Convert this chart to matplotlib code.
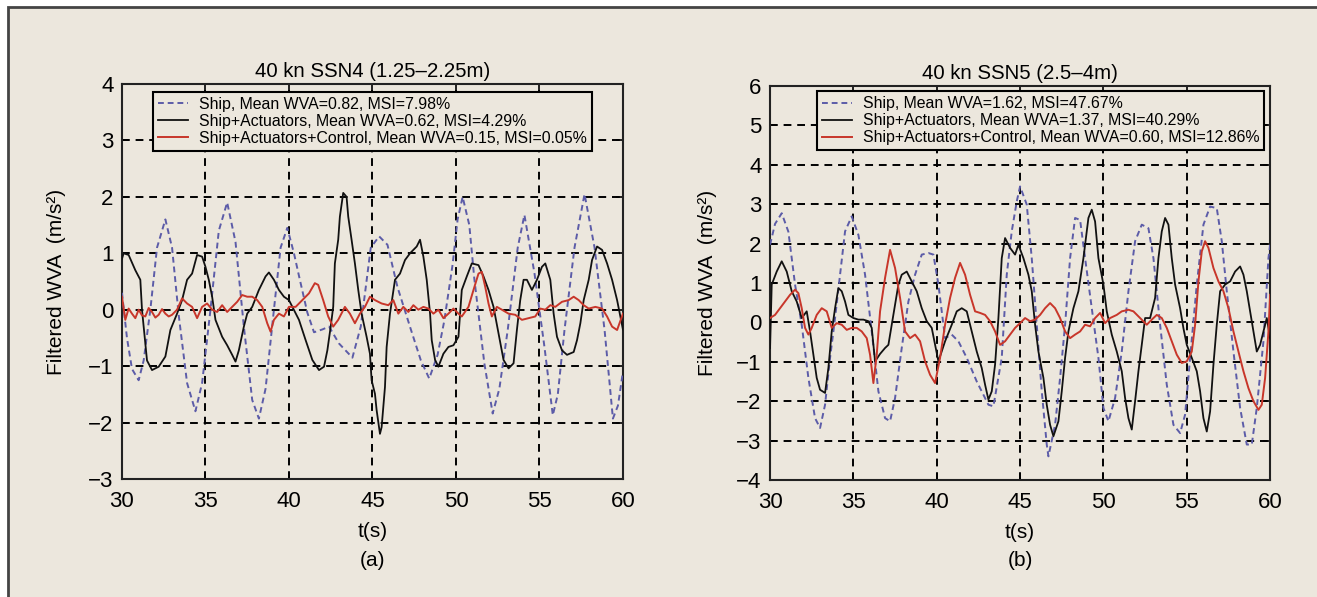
import matplotlib
matplotlib.use("Agg")
import matplotlib.pyplot as plt
from matplotlib.patches import Rectangle

plt.rcParams['font.family'] = ['Liberation Sans', 'DejaVu Sans']

BG = '#ece7dd'
SHIP_C = '#5c5ca8'
ACT_C = '#111111'
CTRL_C = '#c8362a'

# ---- panel (a): 40 kn SSN4 ----
a_ship_t = [30.0, 30.3, 30.6, 31.0, 31.3, 31.7, 32.1, 32.6, 33.0, 33.4, 33.9, 34.4, 34.8, 35.3,
            35.8, 36.3, 36.8, 37.3, 37.8, 38.2, 38.6, 39.1, 39.5, 39.9, 40.3, 40.6, 41.1, 41.5,
            42.0, 42.4, 43.0, 43.8, 44.3, 44.9, 45.4, 45.9, 46.5, 47.3, 47.9, 48.4, 48.9, 49.3,
            49.8, 50.1, 50.4, 50.8, 51.1, 51.7, 52.2, 52.6, 53.1, 53.7, 54.1, 54.7, 55.3, 55.8,
            56.1, 56.5, 57.1, 57.7, 58.3, 58.9, 59.4, 59.7, 60.0]
a_ship_v = [0.3, -0.5, -1.05, -1.25, -0.9, 0.0, 1.1, 1.6, 1.1, -0.1, -1.3, -1.8, -1.3, 0.0,
            1.4, 1.9, 1.2, -0.3, -1.6, -1.93, -1.4, 0.0, 1.1, 1.45, 1.0, 0.6, -0.05, -0.4,
            -0.35, -0.3, -0.6, -0.85, -0.3, 1.1, 1.3, 1.15, 0.4, -0.35, -0.9, -1.22, -0.8, -0.2,
            0.8, 1.6, 2.0, 1.5, 0.55, -0.95, -1.84, -1.4, -0.36, 1.1, 1.68, 0.65, -0.66, -1.87,
            -1.5, -0.36, 1.1, 2.05, 1.1, -0.36, -1.93, -1.7, -1.1]

a_act_t = [30.0, 30.1, 30.4, 30.8, 31.1, 31.2, 31.5, 31.8, 32.2, 32.6, 32.9, 33.3, 33.6, 33.9,
           34.2, 34.5, 34.8, 35.0, 35.2, 35.4, 35.6, 36.0, 36.3, 36.6, 36.8, 37.0, 37.3, 37.5,
           37.8, 38.2, 38.6, 38.8, 39.1, 39.4, 39.7, 40.0, 40.6, 41.0, 41.4, 41.8, 42.1, 42.3,
           42.5, 42.65, 42.75, 42.95, 43.05, 43.25, 43.45, 43.55, 43.75, 43.95, 44.15, 44.35,
           44.65, 44.85, 44.95, 45.15, 45.25, 45.45, 45.55, 45.75, 45.85, 46.05, 46.35, 46.65,
           46.95, 47.25, 47.65, 47.85, 48.05, 48.25, 48.45, 48.55, 48.75, 48.95, 49.25, 49.55,
           49.85, 50.15, 50.35, 50.65, 50.95, 51.35, 51.65, 51.95, 52.25, 52.55, 52.85, 53.15,
           53.45, 53.65, 53.85, 54.05, 54.25, 54.55, 54.85, 55.15, 55.35, 55.65, 55.85, 56.05,
           56.35, 56.65, 57.05, 57.25, 57.45, 57.65, 57.95, 58.15, 58.45, 58.75, 59.05, 59.35,
           59.65, 60.0]
a_act_v = [0.9, 1.0, 0.97, 0.7, 0.53, 0.0, -0.9, -1.07, -1.01, -0.83, -0.36, -0.07, 0.17, 0.53,
           0.64, 0.97, 0.94, 0.76, 0.53, 0.23, -0.18, -0.48, -0.63, -0.8, -0.92, -0.72, -0.3, -0.07,
           0.05, 0.35, 0.59, 0.66, 0.53, 0.35, 0.23, 0.17, -0.18, -0.54, -0.89, -1.07, -1.01, -0.72,
           -0.3, 0.05, 0.82, 1.24, 1.65, 2.07, 2.0, 1.65, 1.24, 0.82, 0.35, -0.07,
           -0.48, -0.78, -1.25, -1.49, -1.78, -2.2, -2.08, -1.37, -0.66, -0.07, 0.53, 0.64,
           0.88, 1.0, 1.12, 1.24, 0.94, 0.53, -0.07, -0.54, -0.89, -1.01, -0.78, -0.66,
           -0.63, -0.48, 0.35, 0.59, 0.82, 0.79, 0.59, 0.35, 0.05, -0.42, -0.89, -1.04,
           -0.95, -0.36, 0.17, 0.53, 0.53, 0.35, 0.53, 0.76, 0.82, 0.53, -0.07, -0.48,
           -0.72, -0.8, -0.75, -0.54, -0.24, 0.17, 0.53, 0.88, 1.12, 1.06, 0.82, 0.53,
           0.17, -0.35]

a_ctrl_t = [30.0, 30.2, 30.4, 30.6, 30.8, 31.0, 31.2, 31.4, 31.6, 31.8, 32.0, 32.2, 32.4, 32.6,
            32.8, 33.0, 33.3, 33.6, 33.9, 34.2, 34.5, 34.8, 35.1, 35.4, 35.7, 36.0, 36.3, 36.6,
            36.9, 37.2, 37.5, 37.8, 38.1, 38.4, 38.7, 38.9, 39.1, 39.4, 39.7, 40.0, 40.4, 40.8,
            41.2, 41.55, 41.75, 42.05, 42.35, 42.65, 42.95, 43.35, 43.65, 43.95, 44.25, 44.55,
            44.85, 45.15, 45.55, 45.95, 46.25, 46.55, 46.85, 47.15, 47.45, 47.75, 48.05, 48.35,
            48.65, 48.95, 49.25, 49.55, 49.85, 50.15, 50.35, 50.75, 51.05, 51.35, 51.55, 51.75,
            51.95, 52.15, 52.45, 52.75, 53.15, 53.55, 53.95, 54.35, 54.75, 55.05, 55.35, 55.65,
            55.95, 56.35, 56.75, 57.05, 57.35, 57.65, 57.95, 58.35, 58.75, 59.05, 59.35, 59.65,
            60.0]
a_ctrl_v = [0.23, -0.18, 0.02, -0.07, -0.15, 0.0, -0.1, -0.12, 0.03, -0.04, -0.14, -0.09, 0.01, -0.07,
            -0.12, -0.09, 0.0, 0.2, 0.11, 0.05, -0.15, 0.05, 0.11, 0.0, -0.04, 0.08, -0.04, 0.05,
            0.14, 0.26, 0.23, 0.23, 0.17, 0.05, -0.24, -0.39, -0.18, -0.07, -0.12, 0.05, 0.05, 0.17,
            0.29, 0.47, 0.44, 0.17, -0.12, -0.3, -0.18, 0.05, -0.07, -0.24, -0.07, 0.05,
            0.23, 0.17, 0.11, 0.08, 0.17, -0.07, 0.05, -0.04, 0.08, 0.0, 0.05, 0.02,
            -0.07, 0.0, -0.15, -0.07, 0.02, -0.07, -0.12, 0.05, 0.35, 0.64, 0.67, 0.41,
            0.11, -0.12, 0.05, 0.0, -0.07, -0.09, -0.18, -0.15, -0.12, 0.02, 0.0, 0.08,
            0.05, 0.14, 0.17, 0.23, 0.17, 0.08, 0.02, 0.05, 0.02, -0.12, -0.3, -0.36,
            -0.07]

# ---- panel (b): 40 kn SSN5 ----
b_ship_t = [30.0, 30.3, 30.7, 31.1, 31.5, 31.9, 32.3, 32.7, 33.0, 33.3, 33.6, 33.9, 34.2, 34.5,
            34.9, 35.3, 35.7, 36.1, 36.5, 36.9, 37.2, 37.5, 37.9, 38.3, 38.7, 39.1, 39.5, 39.8,
            40.1, 40.5, 40.9, 41.3, 41.8, 42.4, 43.1, 43.4, 43.9, 44.2, 44.5, 44.8, 45.0, 45.4,
            45.7, 46.0, 46.3, 46.6, 46.7, 47.1, 47.4, 47.7, 48.0, 48.3, 48.6, 48.9, 49.3, 49.7,
            50.0, 50.3, 50.7, 51.1, 51.5, 51.9, 52.3, 52.7, 53.0, 53.4, 53.8, 54.2, 54.6, 54.9,
            55.2, 55.6, 56.0, 56.4, 56.8, 57.1, 57.4, 57.8, 58.2, 58.6, 58.9, 59.2, 59.6, 59.9,
            60.0]
b_ship_v = [1.97, 2.5, 2.77, 2.3, 0.96, -0.06, -1.41, -2.43, -2.68, -2.09, -0.9, 0.11, 1.21, 2.31,
            2.69, 2.22, 1.21, -0.23, -1.75, -2.43, -2.51, -1.92, -0.65, 0.53, 1.21, 1.72, 1.76, 1.72,
            0.96, -0.4, -0.31, -0.48, -0.9, -1.5, -2.09, -2.13, -0.9, 1.21, 2.31, 3.07, 3.45, 2.99,
            1.63, -0.06, -1.75, -3.1, -3.4, -2.6, -1.41, -0.06, 1.63, 2.65, 2.6, 1.63, 0.36, -0.9,
            -2.17, -2.51, -1.92, -0.74, 0.79, 2.06, 2.48, 2.39, 1.63, -0.06, -1.58, -2.6, -2.81, -2.34,
            -0.9, 0.96, 2.48, 2.94, 2.9, 2.06, 0.79, -0.74, -2.17, -3.1, -3.1, -2.17, -0.48, 1.63,
            1.97]

b_act_t = [30.0, 30.1, 30.4, 30.7, 31.0, 31.3, 31.6, 31.9, 32.2, 32.4, 32.6, 32.8, 33.0, 33.3,
           33.5, 33.7, 33.9, 34.1, 34.3, 34.5, 34.7, 35.0, 35.3, 35.6, 35.9, 36.1, 36.3, 36.6,
           36.9, 37.1, 37.3, 37.5, 37.7, 37.9, 38.2, 38.5, 38.8, 39.1, 39.4, 39.7, 40.1, 40.5,
           40.9, 41.2, 41.5, 41.8, 42.1, 42.4, 42.7, 42.9, 43.1, 43.3, 43.5, 43.7, 43.9, 44.1,
           44.4, 44.7, 44.9, 45.2, 45.5, 45.7, 45.9, 46.1, 46.4, 46.6, 46.8, 47.0, 47.3, 47.5,
           47.7, 47.9, 48.2, 48.5, 48.8, 49.1, 49.3, 49.5, 49.7, 50.0, 50.2, 50.5, 50.8, 51.1,
           51.3, 51.5, 51.7, 51.9, 52.1, 52.3, 52.5, 52.8, 53.1, 53.3, 53.5, 53.7, 53.9, 54.1,
           54.3, 54.6, 54.8, 55.0, 55.3, 55.6, 55.8, 56.0, 56.2, 56.4, 56.6, 56.8, 57.0, 57.3,
           57.6, 57.9, 58.2, 58.4, 58.6, 58.8, 59.0, 59.2, 59.4, 59.6, 59.8, 60.0]
b_act_v = [-0.65, 0.96, 1.29, 1.55, 1.29, 0.79, 0.53, 0.11, 0.28, -0.23, -0.82, -1.41, -1.71, -1.79,
           -1.16, -0.23, 0.36, 0.87, 0.79, 0.53, 0.19, 0.11, 0.07, 0.07, 0.03, -0.14, -0.99, -0.8,
           -0.65, -0.57, -0.06, 0.45, 0.96, 1.21, 1.29, 1.04, 0.79, 0.36, 0.03, -0.14, -0.99, -0.48,
           -0.06, 0.28, 0.36, 0.28, -0.23, -0.74, -1.16, -1.58, -1.96, -1.75, -1.07, 0.11, 1.63, 2.14,
           1.89, 1.72, 1.97, 1.63, 1.21, 0.79, -0.06, -0.74, -1.41, -2.09, -2.6, -2.89, -2.51, -1.75,
           -0.9, -0.23, 0.36, 0.79, 1.63, 2.65, 2.86, 2.56, 1.63, 0.96, 0.28, -0.31, -0.74, -1.24,
           -1.92, -2.43, -2.72, -2.0, -1.24, -0.57, 0.11, 0.11, 0.62, 1.63, 2.31, 2.65, 2.48, 1.63,
           0.96, 0.36, -0.15, -0.57, -0.9, -1.24, -1.75, -2.43, -2.77, -2.26, -1.07, -0.06, 0.79, 0.96,
           1.04, 1.29, 1.42, 1.21, 0.79, 0.28, -0.23, -0.74, -0.57, -0.23, 0.11, -0.4]

b_ctrl_t = [30.0, 30.3, 30.6, 30.9, 31.2, 31.5, 31.7, 31.9, 32.1, 32.3, 32.5, 32.8, 33.1, 33.4,
            33.7, 34.0, 34.3, 34.6, 34.9, 35.2, 35.5, 35.8, 36.0, 36.2, 36.4, 36.6, 36.9, 37.2,
            37.5, 37.8, 38.1, 38.4, 38.7, 39.0, 39.3, 39.6, 39.9, 40.2, 40.5, 40.8, 41.1, 41.4,
            41.7, 42.0, 42.3, 42.6, 42.9, 43.2, 43.5, 43.8, 44.1, 44.4, 44.7, 45.0, 45.3, 45.6,
            45.9, 46.2, 46.5, 46.8, 47.1, 47.4, 47.7, 48.0, 48.3, 48.6, 48.9, 49.2, 49.5, 49.8,
            50.1, 50.4, 50.8, 51.1, 51.5, 51.8, 52.2, 52.6, 52.9, 53.2, 53.5, 53.8, 54.1, 54.4,
            54.7, 55.0, 55.3, 55.5, 55.7, 55.9, 56.1, 56.3, 56.6, 56.9, 57.2, 57.5, 57.8, 58.1,
            58.4, 58.7, 59.0, 59.3, 59.5, 59.7, 59.9, 60.0]
b_ctrl_v = [0.11, 0.19, 0.36, 0.53, 0.7, 0.83, 0.74, 0.36, -0.14, -0.31, -0.14, 0.19, 0.36, 0.28,
            -0.14, -0.02, -0.06, -0.19, -0.14, -0.14, -0.23, -0.4, -0.82, -1.54, -0.82, 0.28, 1.13, 1.84,
            1.38, 0.62, -0.23, -0.4, -0.31, -0.48, -0.99, -1.33, -1.54, -0.9, -0.06, 0.62, 1.13, 1.51,
            1.21, 0.7, 0.28, 0.24, 0.19, 0.03, -0.23, -0.57, -0.48, -0.31, -0.14, -0.02, 0.11, 0.03,
            0.07, 0.19, 0.36, 0.49, 0.36, 0.11, -0.23, -0.4, -0.31, -0.23, -0.06, -0.1, 0.11, 0.24,
            -0.02, 0.11, 0.19, 0.28, 0.32, 0.28, 0.11, -0.06, 0.07, 0.19, 0.11, -0.14, -0.48, -0.82,
            -1.03, -0.99, -0.74, -0.06, 1.04, 1.8, 2.06, 1.89, 1.38, 1.04, 0.79, 0.36, -0.23, -0.74,
            -1.24, -1.67, -2.0, -2.22, -2.09, -1.41, -0.23, 0.7]

panels = [
    dict(title="40 kn SSN4 (1.25\u20132.25m)", tag="(a)",
         rect=[0.0926, 0.1977, 0.3804, 0.6616], ylim=(-3, 4),
         ship=(a_ship_t, a_ship_v), act=(a_act_t, a_act_v), ctrl=(a_ctrl_t, a_ctrl_v),
         labels=["Ship, Mean WVA=0.82, MSI=7.98%",
                 "Ship+Actuators, Mean WVA=0.62, MSI=4.29%",
                 "Ship+Actuators+Control, Mean WVA=0.15, MSI=0.05%"],
         leg_anchor=(0.062, 0.98), ylabel_x=0.043),
    dict(title="40 kn SSN5 (2.5\u20134m)", tag="(b)",
         rect=[0.5847, 0.196, 0.3797, 0.66], ylim=(-4, 6),
         ship=(b_ship_t, b_ship_v), act=(b_act_t, b_act_v), ctrl=(b_ctrl_t, b_ctrl_v),
         labels=["Ship, Mean WVA=1.62, MSI=47.67%",
                 "Ship+Actuators, Mean WVA=1.37, MSI=40.29%",
                 "Ship+Actuators+Control, Mean WVA=0.60, MSI=12.86%"],
         leg_anchor=(0.094, 0.986), ylabel_x=0.537),
]

fig = plt.figure(figsize=(13.17, 5.97), dpi=100)
fig.patch.set_facecolor('white')
# beige panel with a grey rule on top and left (drawn behind everything)
fig.patches.append(Rectangle((8 / 1317, -0.1), 1.2, 1.1 - 7 / 597, transform=fig.transFigure,
                             facecolor=BG, edgecolor='#444444', linewidth=2, zorder=-10))

for p in panels:
    ax = fig.add_axes(p["rect"])
    ax.set_facecolor(BG)
    ax.plot(*p["ship"], color=SHIP_C, lw=1.4, ls=(0, (3, 2)), label=p["labels"][0], zorder=3)
    ax.plot(*p["act"], color=ACT_C, lw=1.3, label=p["labels"][1], zorder=4)
    ax.plot(*p["ctrl"], color=CTRL_C, lw=1.4, label=p["labels"][2], zorder=5)

    ax.set_xlim(30, 60)
    ax.set_ylim(*p["ylim"])
    ax.set_xticks(range(30, 61, 5))
    ax.set_yticks(range(p["ylim"][0], p["ylim"][1] + 1))
    ax.grid(True, color='black', ls=(0, (4, 3)), lw=1.4)
    ax.set_axisbelow(True)
    ax.tick_params(direction='in', top=True, right=True, length=5, width=1.2,
                   labelsize=16)
    ax.tick_params(axis='x', pad=9)
    ax.tick_params(axis='y', pad=6)
    for s in ax.spines.values():
        s.set_linewidth(1.5)
        s.set_color('#222222')

    ax.set_title(p["title"], fontsize=14.7, pad=5)
    ax.set_xlabel("t(s)", fontsize=15, labelpad=7)
    fig.text(p["ylabel_x"], p["rect"][1] + p["rect"][3] / 2, "Filtered WVA  (m/s\u00b2)",
             rotation=90, ha='center', va='center', fontsize=15)
    fig.text(p["rect"][0] + p["rect"][2] / 2, 1 - 560 / 597, p["tag"],
             ha='center', va='center', fontsize=15)

    leg = ax.legend(loc='upper left', bbox_to_anchor=p["leg_anchor"], fontsize=11.4,
                    frameon=True, fancybox=False, handlelength=1.9, handletextpad=0.7,
                    borderpad=0.3, labelspacing=0.13, borderaxespad=0)
    leg.get_frame().set_facecolor(BG)
    leg.get_frame().set_edgecolor('black')
    leg.get_frame().set_linewidth(1.5)
    leg.get_frame().set_alpha(1)
    leg.set_zorder(10)

fig.savefig("out.png", dpi=100, facecolor=fig.get_facecolor())
